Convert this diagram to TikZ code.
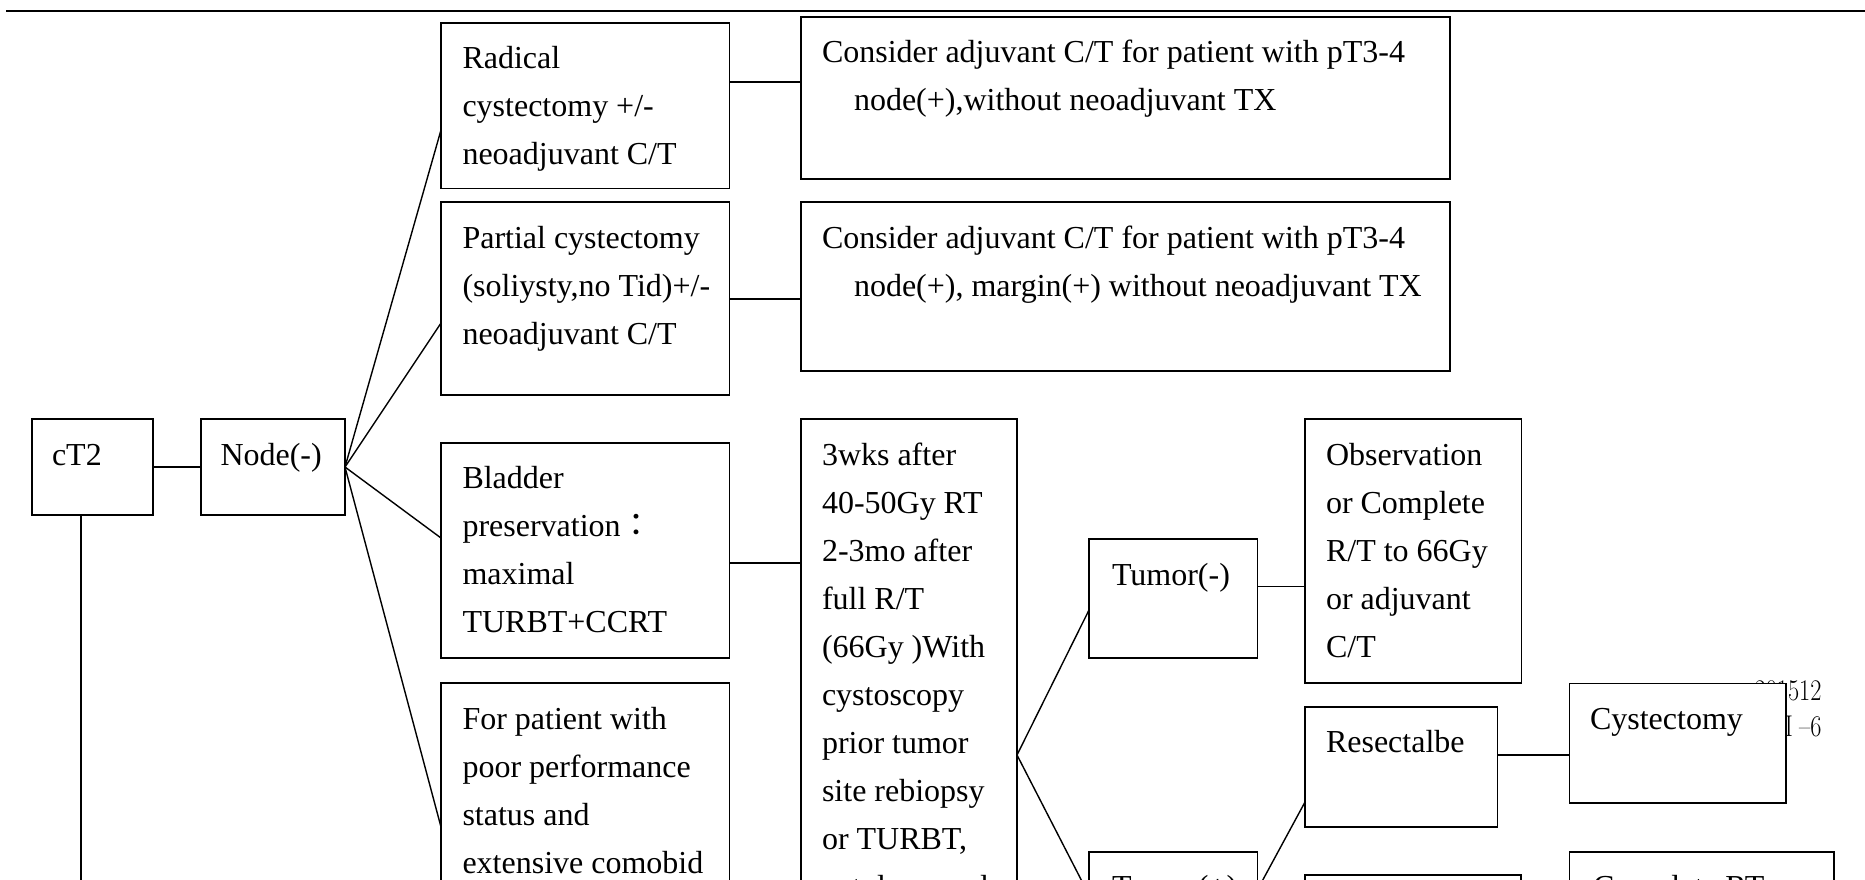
\documentclass[tikz,border=0pt]{standalone}
\usepackage{fontspec}
\setmainfont{Liberation Serif}
\newfontfamily\cjkfont{Noto Sans CJK TC}
\usetikzlibrary{calc}
\newcommand{\boxtext}[4]{\begin{minipage}[t][#2pt][t]{#1pt}\rule{0pt}{46pt}\hspace*{#3pt}\begin{tabular}[t]{@{}l@{}}#4\end{tabular}\end{minipage}}
\begin{document}
\begin{tikzpicture}[x=1pt,y=-1pt,
  box/.style={draw, fill=white, line width=1.6pt, inner sep=0pt, outer sep=0pt, anchor=north west, font=\fontsize{32}{48}\selectfont},
  conn/.style={line width=1.4pt},
  topline/.style={line width=2.5pt},
  footer/.style={inner sep=0pt, anchor=base east, font=\fontfamily{lmr}\fontsize{30}{36}\selectfont}]
\useasboundingbox (0,0) rectangle (1865,879);
\clip (0,0) rectangle (1865,879);
\fill[white] (0,0) rectangle (1865,879);

\coordinate (tl) at (6,11);
\coordinate (tr) at (1865,11);
\draw[topline] (tl) -- (tr);

\node[footer] (ft1) at (1821.7,700) {\scalebox{0.81}[1]{201512}};
\node[footer] (ft2) at (1821.7,736.7) {\scalebox{0.81}[1]{I\hspace{8pt}\textendash6}};

\node[box] (ct2) at (32,419) {\boxtext{121}{96}{20}{cT2}};
\node[box] (nd) at (201,419) {\boxtext{144}{96}{19.5}{Node(-)}};
\node[box] (rad) at (441,22.7) {\boxtext{288.5}{165.6}{21.5}{Radical\\cystectomy +/-\\neoadjuvant C/T}};
\node[box] (par) at (441,202) {\boxtext{288.5}{193}{21.5}{Partial cystectomy\\(soliysty,no Tid)+/-\\neoadjuvant C/T}};
\node[box] (bla) at (441,442.7) {\boxtext{288.5}{215.3}{21.5}{Bladder\\preservation{\cjkfont ：}\\maximal\\TURBT+CCRT}};
\node[box] (poor) at (441,683) {\boxtext{288.5}{300}{21.5}{For patient with\\poor performance\\status and\\extensive comobid}};
\node[box] (c1) at (801,16.7) {\boxtext{649}{162.3}{21}{Consider adjuvant C/T for patient with pT3-4\\\hspace*{32pt}node(+),without neoadjuvant TX}};
\node[box] (c2) at (801,202) {\boxtext{649}{169}{21}{Consider adjuvant C/T for patient with pT3-4\\\hspace*{32pt}node(+), margin(+) without neoadjuvant TX}};
\node[box] (w3) at (801,419) {\boxtext{216}{560}{21}{3wks after\\40-50Gy RT\\2-3mo after\\full R/T\\(66Gy )With\\cystoscopy\\prior tumor\\site rebiopsy\\or TURBT,\\cytology and}};
\node[box] (tn) at (1089,539) {\boxtext{168.5}{119}{23}{Tumor(-)}};
\node[box] (tp) at (1089,851.7) {\boxtext{168.5}{119}{23}{Tumor(+)}};
\node[box] (obs) at (1305,419) {\boxtext{216.6}{263.7}{21}{Observation\\or Complete\\R/T to 66Gy\\or adjuvant\\C/T}};
\node[box] (res) at (1305,706.7) {\boxtext{192.5}{120}{21}{Resectalbe}};
\node[box] (unr) at (1305,875) {\boxtext{216}{120}{21}{}};
\node[box] (cys) at (1569.5,683.3) {\boxtext{216.3}{119.4}{20.5}{Cystectomy}};
\node[box] (crt) at (1569.5,851.7) {\boxtext{264.5}{120}{23.5}{Complete RT}};

\draw[conn] (ct2.east) -- (nd.west);
\draw[conn] (nd.east) -- ($(rad.north west)+(0,107.3)$);
\draw[conn] (nd.east) -- ($(par.north west)+(0,121)$);
\draw[conn] (nd.east) -- ($(bla.north west)+(0,95.3)$);
\draw[conn] (nd.east) -- ($(poor.north west)+(0,144)$);
\draw[conn] ($(rad.north east)+(0,59.3)$) -- ($(c1.north west)+(0,65.3)$);
\draw[conn] ($(par.north east)+(0,97)$) -- ($(c2.north west)+(0,97)$);
\draw[conn] ($(bla.north east)+(0,120.3)$) -- ($(w3.north west)+(0,144)$);
\draw[conn] ($(w3.north east)+(0,336)$) -- ($(tn.north west)+(0,71)$);
\draw[conn] ($(w3.north east)+(0,336)$) -- ($(tp.north west)+(0,43.3)$);
\draw[conn] ($(tn.north east)+(0,47.7)$) -- ($(obs.north west)+(0,167.7)$);
\draw[conn] ($(tp.north east)+(0,38)$) -- ($(res.north west)+(0,95.3)$);
\draw[conn] ($(res.north east)+(0,48.3)$) -- ($(cys.north west)+(0,71.7)$);
\coordinate (ct2end) at (81,1000);
\draw[conn] ($(ct2.south west)+(49,0)$) -- (ct2end);
\end{tikzpicture}
\end{document}
